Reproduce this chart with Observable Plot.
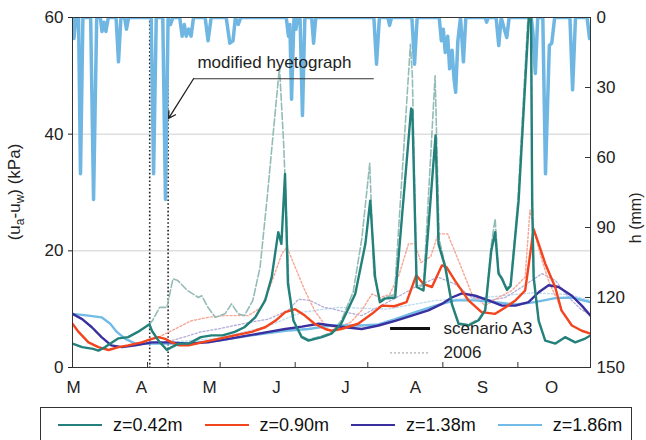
<!DOCTYPE html>
<html><head><meta charset="utf-8">
<script src="https://cdn.jsdelivr.net/npm/d3@7"></script>
<script src="https://cdn.jsdelivr.net/npm/@observablehq/plot@0.6"></script>
<style>
body{margin:0;background:#fff;font-family:"Liberation Sans",Arial,sans-serif;}
#wrap{position:relative;width:646px;height:440px;overflow:hidden;}
#legend{position:absolute;left:40px;top:407px;width:592px;height:46px;border:1.5px solid #333;box-sizing:border-box;display:flex;align-items:flex-start;padding-left:17px;padding-top:7px;font-size:18px;color:#111;}
#legend .it{display:flex;align-items:center;margin-right:22px;line-height:20px;}
#legend .sw{display:inline-block;width:44px;height:0;border-top:2px solid;margin-right:11px;}
</style></head>
<body><div id="wrap"><div id="chart"></div><div id="legend"></div></div>
<script>
// ---- data (x = days since 1 March, y = suction kPa, h = rain mm) ----
const monthStarts = [0,31,61,92,122,153,184,214];
const monthLabels = ["M","A","M","J","J","A","S","O"];
const labelDays = [0.4,28.5,56.6,84.3,112.8,141.7,169.4,197.9];
const kPaTicks = [0,20,40,60];
const hTicks = [0,30,60,90,120,150];
const modifiedDays = [31.9,39.5];

const seriesNames = ["z=0.42m","z=0.90m","z=1.38m","z=1.86m"];
const seriesColors = ["#23807a","#f2441d","#3a2f9e","#72bbe6"];
const series2006Colors = ["#93bcb7","#f7a595","#b4acd9","#bcdcf0"];

const z042_A3 = [[0,4.1],[4,3.5],[8.5,3.2],[10.7,2.9],[13.5,3.5],[16.3,4.3],[19,5.0],[23,5.2],[27,6.1],[31.8,7.4],[32.8,6.3],[35.5,4.6],[39,3.0],[41,3.5],[44,4.1],[48,4.1],[53,5.2],[57.5,5.5],[62,5.5],[67,6.1],[71,6.9],[75.5,8.6],[79.6,11.5],[82.3,15.5],[85,23.2],[86.3,21.2],[87.8,33.2],[89,14.4],[91.3,8.0],[94.7,5.2],[97.5,4.6],[103,5.2],[107,5.8],[111,7.5],[116.8,12.6],[121,21.2],[123,28.6],[125,15.5],[127,11.2],[129,11.8],[133.3,12],[139.9,44.4],[140.4,44],[142.2,13.8],[145,13.2],[150,39.8],[151.2,21.2],[154,17.2],[156.7,10.9],[159.5,7.5],[163.6,7.2],[167.8,8.1],[170.5,9.8],[173,20],[174.6,23.2],[176,16.1],[177.4,15.2],[179.5,13.3],[181,14],[184.3,28.6],[188.8,62],[189.4,62],[189.9,28.6],[190.5,15.5],[192.6,8],[195.3,4.6],[199.5,4.1],[203.5,5.2],[207.7,4.3],[211.5,4.9],[214,5.5]];
const z042_2006 = [[31.8,7.4],[33,8],[36,10.3],[39,10.3],[41.5,15.2],[43.5,14.9],[47.5,13.2],[52,12],[53.4,12.3],[56,10.3],[59,8.6],[63,9.2],[65.7,10.9],[68.5,9.2],[71,8.9],[74.5,11.5],[77.5,17.2],[80.3,28.6],[85.5,51.5],[87.2,38.7],[88.5,25],[89.3,14.4],[91.3,8.0],[94.7,5.4],[97.5,4.8],[103,5.4],[107,6],[111,8],[116,13],[119.5,22],[122.8,35],[124.5,16],[127,11.5],[129,12],[133,12.5],[139.6,55.4],[140.4,50],[142.2,14],[145,14],[149.8,50],[151.5,22],[154,17.5],[156.7,11],[159.5,7.6],[163.6,7.4],[167.8,8.3],[170.5,10],[173,21],[174.6,25.5],[176,16.5],[177.4,15.5],[179.5,13.5],[181,14.5],[184,28.6],[188.4,62],[189.4,62],[190,28.6],[190.6,15.5],[192.6,8]];
const z090_A3 = [[0,7.5],[2.5,6.1],[6.6,4.3],[10.7,3.5],[14.9,3.0],[19,3.5],[23,3.8],[28.6,4.3],[32.8,4.9],[35.5,5.2],[38.3,4.9],[41,4.3],[44,3.8],[48,3.8],[53.4,4.3],[60.3,4.9],[67,5.5],[74,6.1],[79.6,6.9],[83.8,8.0],[87.9,9.5],[92,10.0],[96,8.9],[100,7.5],[104.4,6.6],[107,6.3],[111,6.6],[118,7.5],[123.7,9.2],[127.8,10.6],[133,10.5],[138,11.2],[142,15.8],[145,14.3],[148.5,13.8],[152.6,17.5],[154.5,17.2],[158,14.9],[163.6,11.5],[169,9.5],[174.6,9.2],[178.8,10.3],[183,11.5],[187,13.2],[190.5,23.7],[192.6,21.2],[195.3,17.8],[199.4,13.8],[202,9.8],[206.3,7.2],[210.4,6.3],[214,5.8]];
const z090_2006 = [[35.5,5.2],[42.4,6.6],[49,8.0],[56,8.6],[63,8.9],[72.7,8.9],[78,10.3],[82,14.3],[86.5,19.5],[88.6,20.6],[92,17.2],[96,13.2],[100,9.8],[104.4,7.2],[110,6.8],[115,7.8],[119.5,9.8],[123.7,12.6],[127,12],[131,12.5],[135,16],[138.8,21.2],[141.5,21.2],[144,18],[148,19],[151,22.9],[155,22.9],[159.5,18.3],[165,12.6],[170.5,10.6],[176,12],[181.5,13.2],[187,15.5],[189,27],[191,22.9],[194,18.3],[197,14.5],[202,10]];
const z138_A3 = [[0,9.2],[4,8.3],[8,6.9],[12,5.2],[16,3.8],[20.4,3.5],[26,3.8],[32.8,4.3],[39.7,4.3],[48,4.1],[56,4.3],[64.5,4.9],[72.7,5.5],[81,6.1],[87.9,6.6],[94.8,7.0],[101.7,7.5],[107,7.2],[112.7,6.9],[119.5,6.6],[126.4,7.2],[133.3,8.0],[140.2,8.9],[147,9.8],[152.6,10.9],[156.7,12.0],[160.9,12.7],[166.4,12.3],[171.9,11.5],[177.4,10.6],[183,10.6],[188.4,11.2],[192.6,12.9],[196.7,14.1],[200.8,13.8],[206.3,12.3],[210.4,10.6],[214,8.9]];
const z138_2006 = [[38,4.3],[46,5.2],[53,6.1],[60,6.6],[67,7.2],[74,7.8],[81,8.3],[89,9.8],[93.4,11.7],[98,11.5],[104,10.3],[108,10],[112.7,9.5],[119.5,8.9],[126,10.3],[133,11.8],[141.6,13.8],[151,15.5],[158,14.3],[165,12],[171.9,11.5],[178.8,12],[185.7,13.8],[194,16.1],[199.5,14.9],[205,12],[210,10],[214,9]];
const z186_A3 = [[0,9.2],[6.6,8.9],[12,8.6],[15.6,7.5],[18.3,6.1],[21.8,4.9],[26,4.1],[32.8,4.1],[46.5,4.1],[60.3,4.6],[74,5.5],[87.9,6.3],[97.5,6.6],[107,7.2],[119.5,7.2],[126.4,7.4],[133.3,8.3],[141.6,9.5],[150,10.6],[158,11.5],[166.4,11.5],[174.6,11.2],[183,10.8],[191,11.2],[199.5,11.9],[206.3,12.0],[214,11.2]];
const z186_2006 = [[40,4.3],[60,5],[80,7],[95,9.5],[110,10.3],[130,10],[150,11.5],[170,12],[190,12.8],[205,12.5],[214,11.5]];

const rainDay = [0,0.6,1.5,2.5,3.3,4.3,7.5,8.7,10,11.5,12.2,13,13.8,14.8,18,19,20,21.5,22.3,23.2,32.5,33.5,34.6,37.3,38.4,39.5,40.5,41.5,44.3,45.3,46.2,47,48,49,50,54.8,56,57.3,63.5,65,66.3,67.3,68.5,69.5,88.3,89.2,89.8,90.5,91.5,92.3,93,94,95,96,98.8,99.6,100.5,124.5,125.6,126.8,130.3,131,131.8,140.2,141.3,142.4,151.5,152.4,153.2,154,155,155.8,156.8,157.6,158.3,159.2,160.3,161.5,162.5,170.5,171.1,171.7,175,176.1,177.1,178.4,179.4,180.4,189.5,190.2,191.2,192.2,194.3,195.4,197,198,199.2,205.5,206.6,207.8,212.6,213.6,214];
const rainH   = [0,9,0,0,67,0,0,78,0,0,6,2,6,0,0,19,0,0,5,0,0,67,0,0,78,0,3,0,0,8,3,8,5,8,0,0,10,0,0,11,10,0,3,0,0,8,3,35,0,5,0,0,42,0,0,11,0,0,20,0,0,3.4,0,0,20,0,0,10,5,15,8,22,14,26,32,10,0,19,0,0,2,0,0,12,0,5,8.6,0,0,6,24,0,0,67,12,11,0,0,31,0,0,9,8];

const annoText = "modified hyetograph";
const annoTextPos = [51.6, 52.3];
const annoLeader = [[124.3,49.5],[50,49.5]];
const annoArrow = [50,49.5,39.7,42.7];
const keyLabels = ["scenario A3","2006"];
const keyPos = {x1:131.4, x2:147.9, xt:153.3, y:[6.7,2.5]};

// ---- build ----
const hPerKPa = 150/60;
const rain = rainDay.map((d,i)=>({day:d, y:60 - rainH[i]/hPerKPa}));
const A3 = [z042_A3,z090_A3,z138_A3,z186_A3];
const Y2006 = [z042_2006,z090_2006,z138_2006,z186_2006];
const px = d=>d[0], py = d=>d[1];

const marks = [
  Plot.gridY(kPaTicks.slice(1,3), {stroke:"#cfcfcf", strokeOpacity:1}),
  Plot.ruleX(modifiedDays, {stroke:"#222", strokeWidth:1.6, strokeDasharray:"1.6,2.2"}),
  Plot.line(rain, {x:"day", y:"y", stroke:"#6fb7e2", strokeWidth:3.5, clip:true}),
  Plot.line(Y2006[3], {x:px, y:py, stroke:series2006Colors[3], strokeWidth:1.3, strokeDasharray:"2,2", clip:true}),
  Plot.line(Y2006[2], {x:px, y:py, stroke:series2006Colors[2], strokeWidth:1.3, strokeDasharray:"2,2", clip:true}),
  Plot.line(Y2006[1], {x:px, y:py, stroke:series2006Colors[1], strokeWidth:1.4, strokeDasharray:"2,2", clip:true}),
  Plot.line(Y2006[0], {x:px, y:py, stroke:series2006Colors[0], strokeWidth:1.6, strokeDasharray:"7,2.5", clip:true}),
  Plot.line(A3[3], {x:px, y:py, stroke:seriesColors[3], strokeWidth:2.4, clip:true}),
  Plot.line(A3[2], {x:px, y:py, stroke:seriesColors[2], strokeWidth:2.4, clip:true}),
  Plot.line(A3[1], {x:px, y:py, stroke:seriesColors[1], strokeWidth:2.4, clip:true}),
  Plot.line(A3[0], {x:px, y:py, stroke:seriesColors[0], strokeWidth:2.4, clip:true}),
  // annotation
  Plot.text([annoText], {x:annoTextPos[0], y:annoTextPos[1], textAnchor:"start", fontSize:17, fill:"#222"}),
  Plot.line(annoLeader, {x:px, y:py, stroke:"#333", strokeWidth:1}),
  Plot.arrow([annoArrow], {x1:d=>d[0], y1:d=>d[1], x2:d=>d[2], y2:d=>d[3], stroke:"#222", strokeWidth:1.3, headLength:9}),
  // key
  Plot.ruleY([keyPos.y[0]], {x1:keyPos.x1, x2:keyPos.x2, stroke:"#111", strokeWidth:3}),
  Plot.ruleY([keyPos.y[1]], {x1:keyPos.x1, x2:keyPos.x2, stroke:"#999", strokeWidth:1, strokeDasharray:"2,2"}),
  Plot.text(keyLabels, {x:keyPos.xt, y:(d,i)=>keyPos.y[i], textAnchor:"start", fontSize:17, fill:"#222"}),
  // frame and axes
  Plot.frame({stroke:"#333"}),
  Plot.ruleX(monthStarts, {insetTop:345, stroke:"#333"}),
  Plot.axisX(labelDays, {tickSize:0, tickPadding:13, tickFormat:d=>monthLabels[labelDays.indexOf(d)], label:null, fontSize:17}),
  Plot.axisY(kPaTicks, {tickSize:4, tickPadding:5, label:null, fontSize:17}),
  Plot.ruleY(hTicks.map(h=>60-h/hPerKPa), {insetLeft:513, stroke:"#333"}),
  Plot.axisY(hTicks.map(h=>60-h/hPerKPa), {anchor:"right", tickSize:0, tickPadding:6, tickFormat:d=>String(Math.round((60-d)*hPerKPa)), label:null, fontSize:17}),
  Plot.text(["h (mm)"], {frameAnchor:"right", rotate:-90, dx:45, fontSize:16, fill:"#222"})
];

const svg = Plot.plot({
  width:646, height:400,
  marginLeft:72, marginRight:56, marginTop:17, marginBottom:33,
  style:{fontFamily:"'Liberation Sans', Arial, sans-serif", fontSize:"17px", background:"white", color:"#222"},
  x:{domain:[0,214]},
  y:{domain:[0,60]},
  marks
});
document.getElementById("chart").appendChild(svg);

// left axis label with subscripts
const lab = d3.select(svg).append("text")
  .attr("transform","translate(20,192) rotate(-90)")
  .attr("text-anchor","middle")
  .attr("font-size",17).attr("fill","#222")
  .attr("font-family","'Liberation Sans', Arial, sans-serif");
lab.append("tspan").text("(u");
lab.append("tspan").attr("dy",4).attr("font-size",12).text("a");
lab.append("tspan").attr("dy",-4).text("-u");
lab.append("tspan").attr("dy",4).attr("font-size",12).text("w");
lab.append("tspan").attr("dy",-4).text(") (kPa)");

// legend
const leg = d3.select("#legend");
seriesNames.forEach((n,i)=>{
  const it = leg.append("div").attr("class","it");
  it.append("span").attr("class","sw").style("border-color",seriesColors[i]);
  it.append("span").text(n);
});
</script></body></html>
